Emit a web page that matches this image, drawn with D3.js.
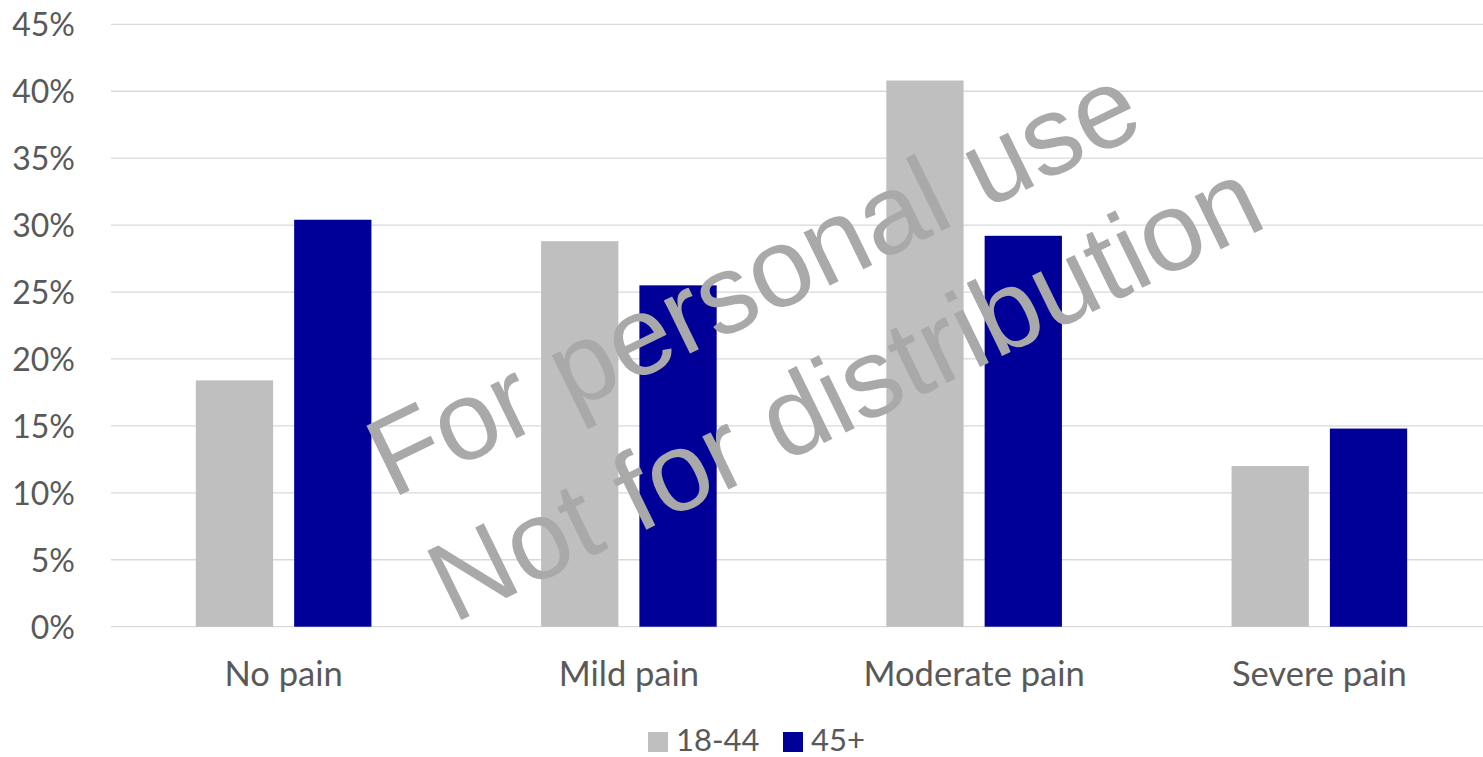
<!DOCTYPE html>
<html>
<head>
<meta charset="utf-8">
<script src="https://cdn.jsdelivr.net/npm/d3@7"></script>
<style>
  html, body { margin: 0; padding: 0; background: #fff; }
  svg { display: block; }
</style>
</head>
<body>
<svg id="chart" width="1483" height="757"></svg>
<script>
// Pain level by age group
const categories = ["No pain", "Mild pain", "Moderate pain", "Severe pain"];
const seriesNames = ["18-44", "45+"];
const age18to44 = [18.4, 28.8, 40.8, 12.0];
const age45plus = [30.4, 25.5, 29.2, 14.8];
const yTicks = [0, 5, 10, 15, 20, 25, 30, 35, 40, 45];
const seriesColors = ["#bfbfbf", "#000099"];
const watermarkLines = ["For personal use", "Not for distribution"];

const series = [age18to44, age45plus];

const svg = d3.select("#chart");
const textColor = "#595959";
const font = "Lato, 'Open Sans', sans-serif";

const plot = { left: 111, right: 1492, top: 24.3, bottom: 626.7 };

const x = d3.scaleBand().domain(categories).range([plot.left, plot.right]).padding(0);
const groupWidth = 175.6;
const xInner = d3.scaleBand().domain(seriesNames)
  .range([-groupWidth / 2, groupWidth / 2])
  .paddingInner(0.214).paddingOuter(0);
const y = d3.scaleLinear().domain([0, 45]).range([plot.bottom, plot.top]);

// horizontal gridlines
svg.append("g").selectAll("line").data(yTicks).join("line")
  .attr("x1", plot.left).attr("x2", plot.right)
  .attr("y1", d => y(d)).attr("y2", d => y(d))
  .attr("stroke", "#d9d9d9").attr("stroke-width", 1.3);

// y axis labels
const yAxis = d3.axisLeft(y).tickValues(yTicks).tickFormat(d => d + "%").tickSize(0).tickPadding(0);
const yg = svg.append("g").attr("transform", "translate(75,0)").call(yAxis);
yg.select(".domain").remove();
yg.selectAll("text")
  .attr("fill", textColor).attr("font-family", font).attr("font-size", 32)
  .attr("dy", "0.36em");

// bars
const barGroups = svg.append("g").selectAll("g").data(categories).join("g")
  .attr("transform", d => `translate(${x(d) + x.bandwidth() / 2},0)`);
barGroups.selectAll("rect")
  .data((c, i) => seriesNames.map((s, j) => ({ s, j, v: series[j][i] })))
  .join("rect")
  .attr("x", d => xInner(d.s))
  .attr("width", xInner.bandwidth())
  .attr("y", d => y(d.v))
  .attr("height", d => y(0) - y(d.v))
  .attr("fill", d => seriesColors[d.j]);

// x axis labels
const xAxis = d3.axisBottom(x).tickSize(0).tickPadding(0);
const xg = svg.append("g").attr("transform", "translate(0,686)").call(xAxis);
xg.select(".domain").remove();
xg.selectAll("text")
  .attr("fill", textColor).attr("font-family", font).attr("font-size", 34.5)
  .attr("dy", 0);

// legend
const legendItems = [
  { name: seriesNames[0], color: seriesColors[0], x: 648 },
  { name: seriesNames[1], color: seriesColors[1], x: 783 }
];
const lg = svg.append("g").selectAll("g").data(legendItems).join("g")
  .attr("transform", d => `translate(${d.x},732)`);
lg.append("rect").attr("width", 20).attr("height", 20).attr("fill", d => d.color);
lg.append("text").attr("x", 28).attr("y", 18.5)
  .attr("fill", textColor).attr("font-family", font).attr("font-size", 31)
  .text(d => d.name);

// watermark
const wm = svg.append("g").attr("transform", "translate(392,499) rotate(-26)");
wm.selectAll("text").data(watermarkLines).join("text")
  .attr("x", 0).attr("y", (d, i) => i * 139)
  .attr("fill", "#a9a9a9")
  .attr("font-family", "'Liberation Sans', Arial, sans-serif")
  .attr("font-size", 112)
  .text(d => d);
</script>
</body>
</html>
